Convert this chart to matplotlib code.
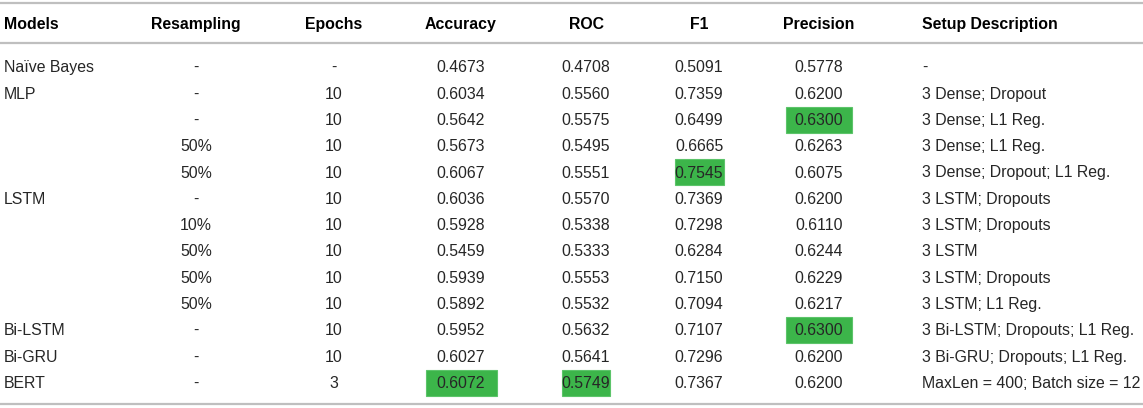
import matplotlib
matplotlib.use("Agg")
import matplotlib.pyplot as plt
from matplotlib.patches import Rectangle

plt.rcParams['font.family'] = ['Liberation Sans', 'DejaVu Sans']

# table content
headers = ['Models', 'Resampling', 'Epochs', 'Accuracy', 'ROC', 'F1', 'Precision', 'Setup Description']
models = ['Naïve Bayes', 'MLP', '', '', '', 'LSTM', '', '', '', '', 'Bi-LSTM', 'Bi-GRU', 'BERT']
resampling = ['-', '-', '-', '50%', '50%', '-', '10%', '50%', '50%', '50%', '-', '-', '-']
epochs = ['-', '10', '10', '10', '10', '10', '10', '10', '10', '10', '10', '10', '3']
accuracy = [0.4673, 0.6034, 0.5642, 0.5673, 0.6067, 0.6036, 0.5928, 0.5459, 0.5939, 0.5892, 0.5952, 0.6027, 0.6072]
roc = [0.4708, 0.5560, 0.5575, 0.5495, 0.5551, 0.5570, 0.5338, 0.5333, 0.5553, 0.5532, 0.5632, 0.5641, 0.5749]
f1 = [0.5091, 0.7359, 0.6499, 0.6665, 0.7545, 0.7369, 0.7298, 0.6284, 0.7150, 0.7094, 0.7107, 0.7296, 0.7367]
precision = [0.5778, 0.6200, 0.6300, 0.6263, 0.6075, 0.6200, 0.6110, 0.6244, 0.6229, 0.6217, 0.6300, 0.6200, 0.6200]
setup = ['-', '3 Dense; Dropout', '3 Dense; L1 Reg.', '3 Dense; L1 Reg.', '3 Dense; Dropout; L1 Reg.',
         '3 LSTM; Dropouts', '3 LSTM; Dropouts', '3 LSTM', '3 LSTM; Dropouts', '3 LSTM; L1 Reg.',
         '3 Bi-LSTM; Dropouts; L1 Reg.', '3 Bi-GRU; Dropouts; L1 Reg.', 'MaxLen = 400; Batch size = 12']

# best values (row, column index)
highlights = [(2, 6), (10, 6), (4, 5), (12, 3), (12, 4)]

# layout (pixels)
W, H = 1143, 408
col_x = [4, 196, 334, 461, 586, 699, 819, 922]
col_ha = ['left', 'center', 'center', 'center', 'center', 'center', 'center', 'left']
box_w = {3: 71, 4: 48, 5: 49, 6: 66}
header_y = 24.5
row0 = 67
row_h = 26.3
fs = 11.4
green = '#3cb54a'
line_c = '#bfbfbf'
txt_c = '#262626'

fig = plt.figure(figsize=(W / 100, H / 100), dpi=100)
ax = fig.add_axes([0, 0, 1, 1])
ax.set_xlim(0, W)
ax.set_ylim(H, 0)
ax.axis('off')

for y in [3, 43, 404]:
    ax.axhline(y, color=line_c, lw=1.6)

for x, ha, h in zip(col_x, col_ha, headers):
    ax.text(x, header_y, h, ha=ha, va='center', fontsize=fs, fontweight='bold', color='black')

for r, c in highlights:
    w = box_w[c]
    y = row0 + r * row_h
    ax.add_patch(Rectangle((col_x[c] - w / 2, y - 13), w, 26, facecolor=green,
                           edgecolor='#5cc46a', lw=0.8, zorder=1))

columns = [models, resampling, epochs,
           ['%.4f' % v for v in accuracy], ['%.4f' % v for v in roc],
           ['%.4f' % v for v in f1], ['%.4f' % v for v in precision], setup]

for i in range(len(models)):
    y = row0 + i * row_h + 0.8
    for c, vals in enumerate(columns):
        ax.text(col_x[c], y, vals[i], ha=col_ha[c], va='center', fontsize=fs,
                color=txt_c, zorder=2)

fig.savefig('out.png', dpi=100)
